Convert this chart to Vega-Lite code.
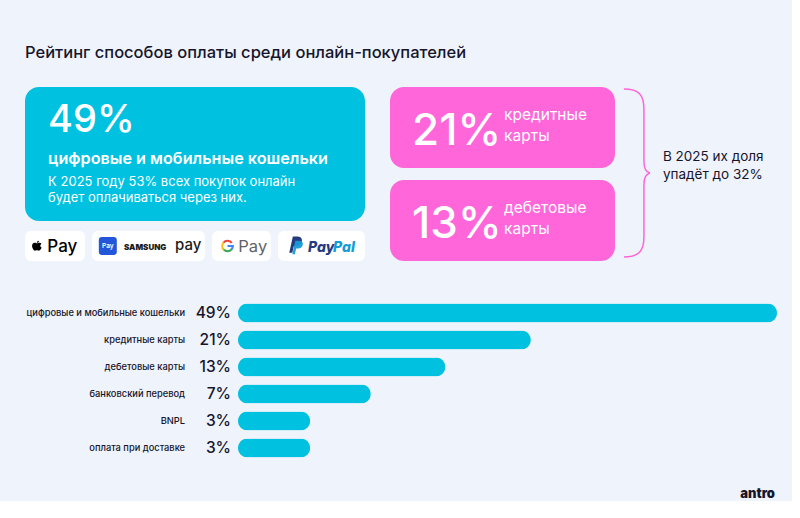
{
  "$schema": "https://vega.github.io/schema/vega-lite/v6.json",
  "background": "#eff3fb",
  "padding": {"left": 25, "top": 45, "right": 0, "bottom": 0},
  "config": {
    "view": {"stroke": null},
    "font": "Inter",
    "text": {"font": "Inter"}
  },
  "title": {
    "text": "Рейтинг способов оплаты среди онлайн-покупателей",
    "anchor": "start",
    "fontSize": 16.5,
    "fontWeight": 500,
    "color": "#16152b",
    "font": "Inter",
    "offset": 24
  },
  "datasets": {
    "methods": [
      {"method": "цифровые и мобильные кошельки", "value": 49},
      {"method": "кредитные карты", "value": 21},
      {"method": "дебетовые карты", "value": 13},
      {"method": "банковский перевод", "value": 7},
      {"method": "BNPL", "value": 3},
      {"method": "оплата при доставке", "value": 3}
    ],
    "wallet_card": [
      {"method": "цифровые и мобильные кошельки", "value": 49, "note": "К 2025 году 53% всех покупок онлайн\nбудет оплачиваться через них."}
    ],
    "card_cards": [
      {"method": "кредитные карты", "value": 21},
      {"method": "дебетовые карты", "value": 13}
    ]
  },
  "spacing": 38.5,
  "vconcat": [
    {
      "spacing": 25,
      "hconcat": [
        {
          "spacing": 10,
          "vconcat": [
            {
              "width": 340,
              "height": 134,
              "view": {"fill": "#00c2e0", "cornerRadius": 14, "stroke": null},
              "data": {"name": "wallet_card"},
              "transform": [{"calculate": "datum.value + '%'", "as": "pct"}],
              "layer": [
                {
                  "mark": {"type": "text", "align": "left", "baseline": "alphabetic", "fontSize": 38, "fontWeight": 500, "fill": "#ffffff", "letterSpacing": 1.5},
                  "encoding": {
                    "x": {"datum": 0.068, "type": "quantitative", "scale": {"domain": [0, 1]}, "axis": null},
                    "y": {"datum": 0.336, "type": "quantitative", "scale": {"domain": [0, 1], "reverse": true}, "axis": null},
                    "text": {"field": "pct"}
                  }
                },
                {
                  "mark": {"type": "text", "align": "left", "baseline": "alphabetic", "fontSize": 16.2, "fontWeight": 600, "fill": "#ffffff"},
                  "encoding": {
                    "x": {"datum": 0.068, "type": "quantitative", "scale": {"domain": [0, 1]}, "axis": null},
                    "y": {"datum": 0.575, "type": "quantitative", "scale": {"domain": [0, 1], "reverse": true}, "axis": null},
                    "text": {"field": "method"}
                  }
                },
                {
                  "mark": {"type": "text", "align": "left", "baseline": "alphabetic", "fontSize": 13, "fontWeight": 400, "fill": "#ffffff", "lineBreak": "\n", "lineHeight": 16.7},
                  "encoding": {
                    "x": {"datum": 0.068, "type": "quantitative", "scale": {"domain": [0, 1]}, "axis": null},
                    "y": {"datum": 0.737, "type": "quantitative", "scale": {"domain": [0, 1], "reverse": true}, "axis": null},
                    "text": {"field": "note"}
                  }
                }
              ]
            },
            {
              "spacing": 7,
              "hconcat": [
                {
                  "width": 60,
                  "height": 30,
                  "view": {"fill": "#ffffff", "cornerRadius": 6, "stroke": null},
                  "data": {"values": [{"brand": "Apple Pay"}]},
                  "layer": [
                    {
                      "mark": {"type": "point", "shape": "M0.02,-0.48 C0.15,-0.48 0.35,-0.6 0.55,-0.6 C0.7,-0.6 0.85,-0.52 0.93,-0.4 C0.6,-0.22 0.62,0.25 0.97,0.38 C0.88,0.62 0.65,1 0.42,1 C0.25,1 0.2,0.92 0.02,0.92 C-0.16,0.92 -0.22,1 -0.38,1 C-0.62,1 -0.95,0.5 -0.95,0.02 C-0.95,-0.4 -0.68,-0.6 -0.42,-0.6 C-0.22,-0.6 -0.1,-0.48 0.02,-0.48 Z M0.02,-0.58 C0,-0.82 0.2,-1 0.42,-1 C0.45,-0.78 0.25,-0.58 0.02,-0.58 Z", "filled": true, "fill": "#000000", "strokeWidth": 0, "size": 100, "opacity": 1},
                      "encoding": {
                        "x": {"datum": 0.197, "type": "quantitative", "scale": {"domain": [0, 1]}, "axis": null},
                        "y": {"datum": 0.49, "type": "quantitative", "scale": {"domain": [0, 1], "reverse": true}, "axis": null}
                      }
                    },
                    {
                      "mark": {"type": "text", "align": "left", "baseline": "alphabetic", "fontSize": 17, "fontWeight": 500, "fill": "#000000", "text": "Pay"},
                      "encoding": {
                        "x": {"datum": 0.372, "type": "quantitative", "scale": {"domain": [0, 1]}, "axis": null},
                        "y": {"datum": 0.71, "type": "quantitative", "scale": {"domain": [0, 1], "reverse": true}, "axis": null}
                      }
                    }
                  ]
                },
                {
                  "width": 113,
                  "height": 30,
                  "view": {"fill": "#ffffff", "cornerRadius": 6, "stroke": null},
                  "data": {"values": [{"brand": "Samsung Pay"}]},
                  "layer": [
                    {
                      "mark": {"type": "point", "shape": "M-0.65,-1 L0.65,-1 Q1,-1 1,-0.65 L1,0.65 Q1,1 0.65,1 L-0.65,1 Q-1,1 -1,0.65 L-1,-0.65 Q-1,-1 -0.65,-1 Z", "filled": true, "fill": "#2356d8", "strokeWidth": 0, "size": 324, "opacity": 1},
                      "encoding": {
                        "x": {"datum": 0.14, "type": "quantitative", "scale": {"domain": [0, 1]}, "axis": null},
                        "y": {"datum": 0.5, "type": "quantitative", "scale": {"domain": [0, 1], "reverse": true}, "axis": null}
                      }
                    },
                    {
                      "mark": {"type": "text", "align": "center", "baseline": "middle", "fontSize": 6.5, "fontWeight": 600, "fill": "#ffffff", "text": "Pay"},
                      "encoding": {
                        "x": {"datum": 0.14, "type": "quantitative", "scale": {"domain": [0, 1]}, "axis": null},
                        "y": {"datum": 0.5, "type": "quantitative", "scale": {"domain": [0, 1], "reverse": true}, "axis": null}
                      }
                    },
                    {
                      "mark": {"type": "text", "align": "left", "baseline": "alphabetic", "fontSize": 8, "fontWeight": 900, "fill": "#1b1b1b", "letterSpacing": 0.9, "text": "SAMSUNG"},
                      "encoding": {
                        "x": {"datum": 0.283, "type": "quantitative", "scale": {"domain": [0, 1]}, "axis": null},
                        "y": {"datum": 0.633, "type": "quantitative", "scale": {"domain": [0, 1], "reverse": true}, "axis": null}
                      }
                    },
                    {
                      "mark": {"type": "text", "align": "left", "baseline": "alphabetic", "fontSize": 15, "fontWeight": 500, "fill": "#1b1b1b", "text": "pay"},
                      "encoding": {
                        "x": {"datum": 0.735, "type": "quantitative", "scale": {"domain": [0, 1]}, "axis": null},
                        "y": {"datum": 0.633, "type": "quantitative", "scale": {"domain": [0, 1], "reverse": true}, "axis": null}
                      }
                    }
                  ]
                },
                {
                  "width": 59,
                  "height": 30,
                  "view": {"fill": "#ffffff", "cornerRadius": 6, "stroke": null},
                  "data": {"values": [{"brand": "Google Pay"}]},
                  "encoding": {
                    "x": {"datum": 0.263, "type": "quantitative", "scale": {"domain": [0, 1]}, "axis": null},
                    "y": {"datum": 0.5, "type": "quantitative", "scale": {"domain": [0, 1], "reverse": true}, "axis": null}
                  },
                  "layer": [
                    {"mark": {"type": "arc", "radius": 6.3, "radius2": 4.2, "theta": -0.87, "theta2": 0.95, "fill": "#ea4335"}},
                    {"mark": {"type": "arc", "radius": 6.3, "radius2": 4.2, "theta": -2.4, "theta2": -0.87, "fill": "#fbbc05"}},
                    {"mark": {"type": "arc", "radius": 6.3, "radius2": 4.2, "theta": 2.2, "theta2": 3.89, "fill": "#34a853"}},
                    {"mark": {"type": "arc", "radius": 6.3, "radius2": 4.2, "theta": 1.5708, "theta2": 2.25, "fill": "#4285f4"}},
                    {"mark": {"type": "point", "shape": "M0,-0.16 L1,-0.16 L1,0.16 L0,0.16 Z", "filled": true, "fill": "#4285f4", "strokeWidth": 0, "size": 159, "opacity": 1}},
                    {
                      "mark": {"type": "text", "align": "left", "baseline": "alphabetic", "fontSize": 16.5, "fontWeight": 400, "fill": "#5f6368", "text": "Pay"},
                      "encoding": {
                        "x": {"datum": 0.446, "type": "quantitative", "scale": {"domain": [0, 1]}, "axis": null},
                        "y": {"datum": 0.71, "type": "quantitative", "scale": {"domain": [0, 1], "reverse": true}, "axis": null}
                      }
                    }
                  ]
                },
                {
                  "width": 87,
                  "height": 30,
                  "view": {"fill": "#ffffff", "cornerRadius": 6, "stroke": null},
                  "data": {"values": [{"brand": "PayPal"}]},
                  "layer": [
                    {
                      "mark": {"type": "point", "shape": "M-0.62,0.9 L-0.2,-1 L0.35,-1 C0.85,-1 0.95,-0.6 0.82,-0.3 C0.68,0.02 0.38,0.1 0.05,0.1 L-0.08,0.1 L-0.26,0.9 Z", "filled": true, "fill": "#253b80", "strokeWidth": 0, "size": 289, "opacity": 1},
                      "encoding": {
                        "x": {"datum": 0.19, "type": "quantitative", "scale": {"domain": [0, 1]}, "axis": null},
                        "y": {"datum": 0.47, "type": "quantitative", "scale": {"domain": [0, 1], "reverse": true}, "axis": null}
                      }
                    },
                    {
                      "mark": {"type": "point", "shape": "M-0.62,0.9 L-0.2,-1 L0.35,-1 C0.85,-1 0.95,-0.6 0.82,-0.3 C0.68,0.02 0.38,0.1 0.05,0.1 L-0.08,0.1 L-0.26,0.9 Z", "filled": true, "fill": "#179bd7", "strokeWidth": 0, "size": 200, "opacity": 0.95},
                      "encoding": {
                        "x": {"datum": 0.215, "type": "quantitative", "scale": {"domain": [0, 1]}, "axis": null},
                        "y": {"datum": 0.56, "type": "quantitative", "scale": {"domain": [0, 1], "reverse": true}, "axis": null}
                      }
                    },
                    {
                      "mark": {"type": "text", "align": "left", "baseline": "alphabetic", "fontSize": 14, "fontWeight": 800, "fontStyle": "italic", "fill": "#253b80", "text": "Pay"},
                      "encoding": {
                        "x": {"datum": 0.345, "type": "quantitative", "scale": {"domain": [0, 1]}, "axis": null},
                        "y": {"datum": 0.71, "type": "quantitative", "scale": {"domain": [0, 1], "reverse": true}, "axis": null}
                      }
                    },
                    {
                      "mark": {"type": "text", "align": "right", "baseline": "alphabetic", "fontSize": 14, "fontWeight": 800, "fontStyle": "italic", "fill": "#179bd7", "text": "Pal"},
                      "encoding": {
                        "x": {"datum": 0.885, "type": "quantitative", "scale": {"domain": [0, 1]}, "axis": null},
                        "y": {"datum": 0.71, "type": "quantitative", "scale": {"domain": [0, 1], "reverse": true}, "axis": null}
                      }
                    }
                  ]
                }
              ]
            }
          ]
        },
        {
          "spacing": 5,
          "hconcat": [
            {
              "data": {"name": "card_cards"},
              "transform": [{"calculate": "datum.value + '%'", "as": "pct"}],
              "facet": {
                "row": {"field": "method", "type": "nominal", "sort": ["кредитные карты", "дебетовые карты"], "header": {"labels": false, "title": null}, "title": null}
              },
              "spacing": 12,
              "spec": {
                "width": 225,
                "height": 81,
                "view": {"fill": "#ff66d9", "cornerRadius": 14, "stroke": null},
                "layer": [
                  {
                    "mark": {"type": "text", "align": "left", "baseline": "alphabetic", "fontSize": 44, "fontWeight": 500, "fill": "#ffffff", "letterSpacing": -0.5},
                    "encoding": {
                      "x": {"datum": 0.098, "type": "quantitative", "scale": {"domain": [0, 1]}, "axis": null},
                      "y": {"datum": 0.71, "type": "quantitative", "scale": {"domain": [0, 1], "reverse": true}, "axis": null},
                      "text": {"field": "pct"}
                    }
                  },
                  {
                    "mark": {"type": "text", "align": "left", "baseline": "alphabetic", "fontSize": 15.5, "fontWeight": 400, "fill": "#ffffff", "lineBreak": " ", "lineHeight": 21},
                    "encoding": {
                      "x": {"datum": 0.507, "type": "quantitative", "scale": {"domain": [0, 1]}, "axis": null},
                      "y": {"datum": 0.41, "type": "quantitative", "scale": {"domain": [0, 1], "reverse": true}, "axis": null},
                      "text": {"field": "method"}
                    }
                  }
                ]
              }
            },
            {
              "width": 170,
              "height": 174,
              "data": {"values": [{"note": "В 2025 их доля\nупадёт до 32%"}]},
              "layer": [
                {
                  "mark": {"type": "point", "shape": "M -0.238 -1 C -0.06 -1 0 -0.93 0 -0.76 L 0 -0.14 C 0 -0.05 0.03 -0.01 0.071 0 C 0.03 0.01 0 0.05 0 0.14 L 0 0.76 C 0 0.93 -0.06 1 -0.238 1", "filled": false, "stroke": "#ff66d9", "strokeWidth": 1.5, "size": 28224, "opacity": 1},
                  "encoding": {
                    "x": {"datum": 0.129, "type": "quantitative", "scale": {"domain": [0, 1]}, "axis": null},
                    "y": {"datum": 0.494, "type": "quantitative", "scale": {"domain": [0, 1], "reverse": true}, "axis": null}
                  }
                },
                {
                  "mark": {"type": "text", "align": "left", "baseline": "alphabetic", "fontSize": 13.5, "fontWeight": 400, "fill": "#16152b", "letterSpacing": -0.5, "lineBreak": "\n", "lineHeight": 18},
                  "encoding": {
                    "x": {"datum": 0.241, "type": "quantitative", "scale": {"domain": [0, 1]}, "axis": null},
                    "y": {"datum": 0.424, "type": "quantitative", "scale": {"domain": [0, 1], "reverse": true}, "axis": null},
                    "text": {"field": "note"}
                  }
                }
              ]
            }
          ]
        }
      ]
    },
    {
      "spacing": 25,
      "vconcat": [
        {
          "spacing": 7,
          "hconcat": [
            {
              "width": 206,
              "height": 162,
              "data": {"name": "methods"},
              "transform": [{"calculate": "datum.value + '%'", "as": "pct"}],
              "encoding": {
                "y": {"field": "method", "type": "nominal", "sort": null, "axis": null, "scale": {"paddingInner": 0.3, "paddingOuter": 0.15}}
              },
              "layer": [
                {
                  "mark": {"type": "text", "align": "right", "baseline": "middle", "fontSize": 9.3, "fontWeight": 500, "fill": "#16152b", "letterSpacing": -0.15},
                  "encoding": {
                    "x": {"datum": 0.777, "type": "quantitative", "scale": {"domain": [0, 1]}, "axis": null},
                    "text": {"field": "method"}
                  }
                },
                {
                  "mark": {"type": "text", "align": "right", "baseline": "middle", "fontSize": 15.5, "fontWeight": 500, "fill": "#16152b", "letterSpacing": -0.5},
                  "encoding": {
                    "x": {"datum": 1, "type": "quantitative", "scale": {"domain": [0, 1]}, "axis": null},
                    "text": {"field": "pct"}
                  }
                }
              ]
            },
            {
              "width": 539,
              "height": 162,
              "data": {"name": "methods"},
              "mark": {"type": "bar", "cornerRadius": 9.5, "fill": "#00c2e0"},
              "encoding": {
                "y": {"field": "method", "type": "nominal", "sort": null, "axis": null, "scale": {"paddingInner": 0.3, "paddingOuter": 0.15}},
                "x": {"field": "value", "type": "quantitative", "axis": null, "scale": {"type": "pow", "exponent": 0.72, "domain": [0, 49], "nice": false}}
              }
            }
          ]
        },
        {
          "width": 752,
          "height": 14,
          "data": {"values": [{"brand": "antro"}]},
          "mark": {"type": "text", "align": "right", "baseline": "middle", "fontSize": 13, "fontWeight": 900, "fill": "#16152b", "letterSpacing": -0.3, "dx": -2},
          "encoding": {
            "x": {"datum": 1, "type": "quantitative", "scale": {"domain": [0, 1]}, "axis": null},
            "y": {"datum": 0.5, "type": "quantitative", "scale": {"domain": [0, 1], "reverse": true}, "axis": null},
            "text": {"field": "brand"}
          }
        }
      ]
    }
  ]
}
